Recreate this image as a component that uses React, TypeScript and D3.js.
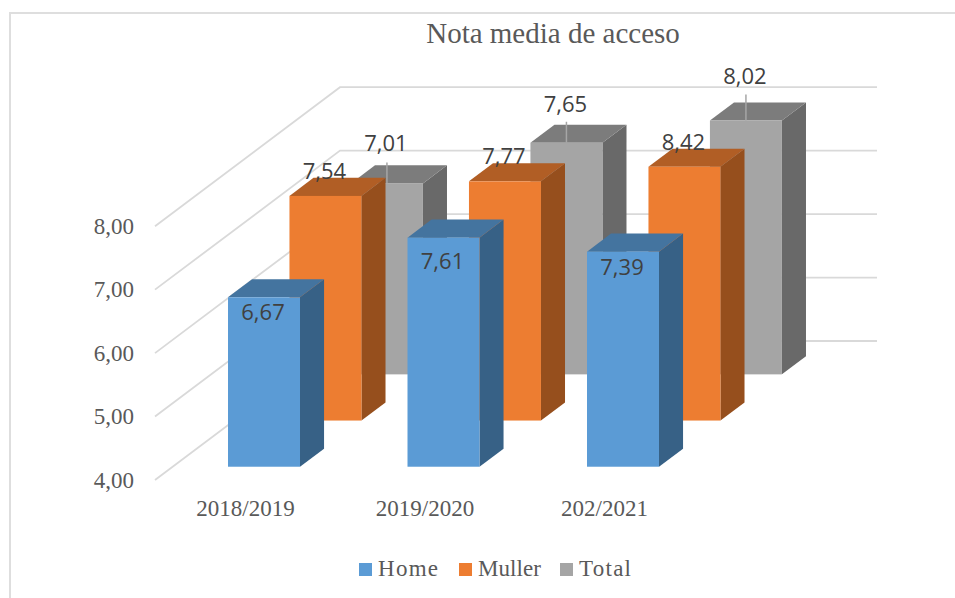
import React from "react";
import * as d3 from "d3";

const title = "Nota media de acceso";
const categories = ["2018/2019", "2019/2020", "202/2021"];
const seriesNames = ["Home", "Muller", "Total"];
const home = [6.67, 7.61, 7.39];
const muller = [7.54, 7.77, 8.42];
const total = [7.01, 7.65, 8.02];
const valueTicks = [4, 5, 6, 7, 8];

const fills = ["#5b9bd5", "#ed7d31", "#a5a5a5"];
const tops = ["#44749f", "#b15e25", "#7c7c7c"];
const sides = ["#376186", "#964f1d", "#696969"];

const W = 955;
const H = 598;
const SERIF = "'Liberation Serif', serif";
const SANS = "'Open Sans', sans-serif";
const TEXT = "#595959";

// projection of the 3D box; bars are clipped at the axis maximum, as in the original
const unit = 63.45;
const yFront = d3.scaleLinear().domain([4, 8]).range([480, 480 - 4 * unit]).clamp(true);
const depthX = d3.scaleLinear().domain([0, 1]).range([0, 185]);
const depthY = d3.scaleLinear().domain([0, 1]).range([0, -139]);
const xCat = d3.scalePoint<number>().domain([0, 1, 2]).range([228, 587]);
const depthOfSeries = d3.scalePoint<number>().domain([0, 1, 2]).range([0.0955, 0.76]);
const barW = 72;
const barDepth = 0.13;

const f2 = (v: number) => d3.format(".2f")(v).replace(".", ",");
const poly = (pts: [number, number][]) => "M" + pts.map((p) => p.join(",")).join("L") + "Z";
const barLeft = (c: number, s: number) => xCat(c)! + depthX(depthOfSeries(s)!) - depthX(depthOfSeries(0)!);
const barTop = (v: number, s: number) => yFront(v) + depthY(depthOfSeries(s)!);

function Bar({ c, s, v }: { c: number; s: number; v: number }) {
  const x0 = barLeft(c, s);
  const yOff = depthY(depthOfSeries(s)!);
  const yB = yFront(4) + yOff;
  const yT = barTop(v, s);
  const dx = depthX(barDepth);
  const dy = depthY(barDepth);
  const x1 = x0 + barW;
  return (
    <g>
      <path d={poly([[x1, yT], [x1 + dx, yT + dy], [x1 + dx, yB + dy], [x1, yB]])} fill={sides[s]} />
      <path d={poly([[x0, yT], [x0 + dx, yT + dy], [x1 + dx, yT + dy], [x1, yT]])} fill={tops[s]} />
      <rect x={x0} y={yT} width={barW} height={yB - yT} fill={fills[s]} />
    </g>
  );
}

const seriesValues = [home, muller, total];

// manual data-label placement relative to the top of each bar's front face
const labelDy = [
  [22.7, 31, 23],
  [-17.3, -17, -17],
  [-32, -31, -36.6],
];
const leaderLen = [21, 21, 26];
const legendX = [359, 459, 560];
const legendTextW = [60, 63, 52];

export default function App() {
  const backX = depthX(1) + 155;
  return (
    <svg width={W} height={H} style={{ position: "absolute", left: 0, top: 0, background: "#fff" }}>
      <path d="M955,13H10V598" fill="none" stroke="#dedede" strokeWidth={2} />
      <text x={553} y={43} textAnchor="middle" fontFamily={SERIF} fontSize={29} fill={TEXT}>{title}</text>
      {valueTicks.map((t) => {
        const yF = yFront(t);
        const yBk = yF + depthY(1);
        return (
          <g key={t}>
            <path d={`M155,${yF}L${backX},${yBk}H877`} fill="none" stroke="#d9d9d9" strokeWidth={1.8} />
            <text x={134} y={yF + 7.5} textAnchor="end" fontFamily={SERIF} fontSize={23} fill={TEXT}>{f2(t)}</text>
          </g>
        );
      })}
      {[2, 1, 0].map((s) => (
        <g key={s}>
          {categories.map((_, c) => (
            <Bar key={c} c={c} s={s} v={seriesValues[s][c]} />
          ))}
        </g>
      ))}
      {[2, 1, 0].map((s) =>
        categories.map((_, c) => {
          const v = seriesValues[s][c];
          const cx = barLeft(c, s) + barW / 2;
          const yT = barTop(v, s);
          return (
            <g key={`${s}-${c}`}>
              {s === 2 && <line x1={cx} x2={cx} y1={yT} y2={yT - leaderLen[c]} stroke="#a6a6a6" strokeWidth={1.5} />}
              <text
                x={cx - 1}
                y={yT + labelDy[s][c]}
                textAnchor="middle"
                fontFamily={SANS}
                fontSize={22}
                fill="#404040"
              >
                {f2(v)}
              </text>
            </g>
          );
        })
      )}
      {categories.map((cat, c) => (
        <text key={cat} x={xCat(c)! + 17.5} y={516} textAnchor="middle" fontFamily={SERIF} fontSize={23} fill={TEXT}>{cat}</text>
      ))}
      {seriesNames.map((n, i) => (
        <g key={n}>
          <rect x={legendX[i]} y={563} width={13} height={13} fill={fills[i]} />
          <text x={legendX[i] + 19} y={576} fontFamily={SERIF} fontSize={23} fill={TEXT} textLength={legendTextW[i]}>{n}</text>
        </g>
      ))}
    </svg>
  );
}
